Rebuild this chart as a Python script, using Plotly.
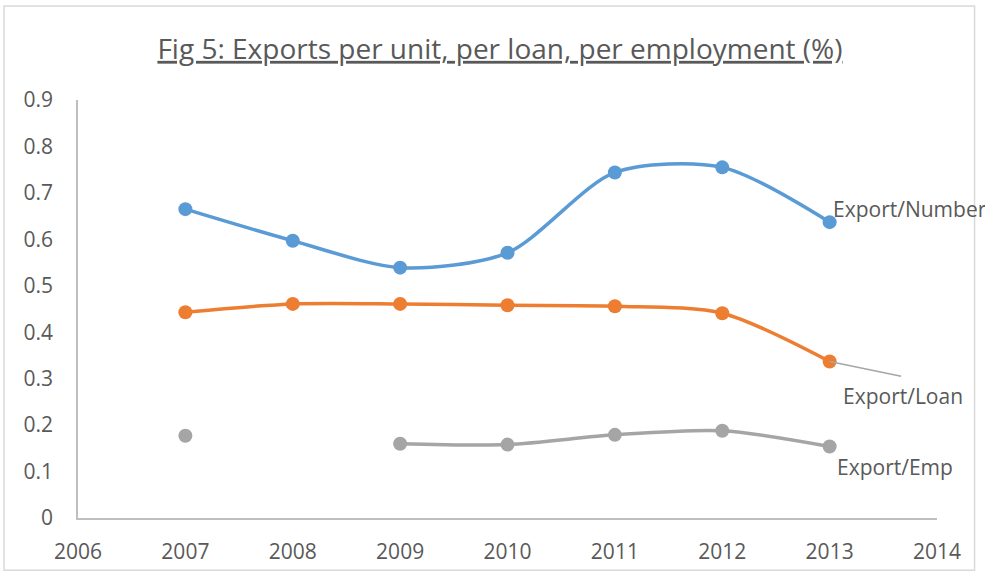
import plotly.graph_objects as go

years = [2007, 2008, 2009, 2010, 2011, 2012, 2013]
export_number = [0.665, 0.597, 0.539, 0.571, 0.744, 0.755, 0.637]
export_loan = [0.443, 0.461, 0.461, 0.458, 0.456, 0.441, 0.337]
export_emp = [0.177, None, 0.160, 0.158, 0.179, 0.188, 0.154]

series_names = ["Export/Number", "Export/Loan", "Export/Emp"]
colors = ["#5B9BD5", "#ED7D31", "#A5A5A5"]
text_color = "#595959"
font_family = "Open Sans"
label_font = dict(size=21, color=text_color, family=font_family)

fig = go.Figure()
for name, vals, col in zip(series_names, [export_number, export_loan, export_emp], colors):
    fig.add_trace(go.Scatter(
        x=years, y=vals, name=name, mode="lines+markers",
        line=dict(color=col, width=3.5, shape="spline", smoothing=0.8),
        marker=dict(color=col, size=14),
        connectgaps=False, showlegend=False,
    ))

# Data labels (series names at last point)
fig.add_annotation(x=years[-1], y=export_number[-1], text=series_names[0],
                   showarrow=False, xanchor="left", yanchor="middle", xshift=1, yshift=13,
                   font=label_font)
# leader line for Export/Loan
fig.add_annotation(x=years[-1], y=export_loan[-1], text="",
                   showarrow=True, arrowhead=0, arrowwidth=1.5, arrowcolor="#A6A6A6",
                   ax=73, ay=15, standoff=0, startstandoff=0)
fig.add_annotation(x=years[-1], y=export_loan[-1], text=series_names[1],
                   showarrow=False, xanchor="center", yanchor="middle", xshift=73, yshift=-35,
                   font=label_font)
fig.add_annotation(x=years[-1], y=export_emp[-1], text=series_names[2],
                   showarrow=False, xanchor="left", yanchor="middle", xshift=5, yshift=-21,
                   font=label_font)

# chart border
fig.add_shape(type="rect", xref="paper", yref="paper",
              x0=-0.0861, x1=1.0437, y0=-0.125, y1=1.225,
              line=dict(color="#D9D9D9", width=1.5), layer="below")

fig.update_layout(
    width=985, height=577,
    margin=dict(l=78, r=47.5, t=100, b=51),
    paper_bgcolor="white", plot_bgcolor="white",
    font=dict(family=font_family, color=text_color, size=21),
    title=dict(text="<u>Fig 5: Exports per unit, per loan, per employment (%)</u>",
               x=0.5076, xref="container", xanchor="center",
               y=0.915, yref="container", yanchor="middle",
               font=dict(size=28, color=text_color, family=font_family)),
    xaxis=dict(range=[2006, 2014], dtick=1, tick0=2006, showgrid=False, zeroline=False,
               showline=True, linecolor="#BFBFBF", linewidth=1.5,
               ticks="", tickfont=dict(size=21, color=text_color), ticklabelstandoff=14),
    yaxis=dict(range=[0, 0.9], dtick=0.1, showgrid=False, zeroline=False,
               showline=True, linecolor="#BFBFBF", linewidth=1.5,
               ticks="", tickfont=dict(size=21, color=text_color), ticklabelstandoff=19,
               tickformat="~g"),
)

fig.write_html(
    "out.html",
    config={"displayModeBar": False},
    post_script="document.body.style.margin='0';document.body.style.overflow='hidden';"
                "document.head.insertAdjacentHTML('beforeend',"
                "'<style>text,tspan{text-decoration-skip-ink:none !important;}</style>');",
)
